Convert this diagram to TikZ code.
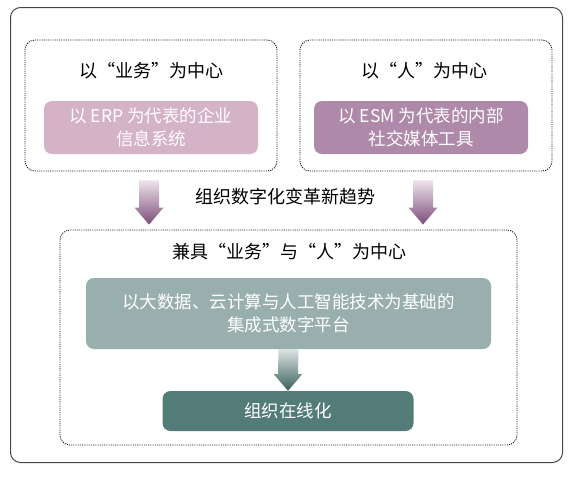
\documentclass[tikz,border=0pt]{standalone}
\usepackage{fontspec}
\setmainfont{Noto Sans CJK SC}
\usetikzlibrary{calc}
\definecolor{plumLight}{HTML}{D5B3C7}
\definecolor{plumMid}{HTML}{AE89A9}
\definecolor{plumDeep}{HTML}{7C4C79}
\definecolor{plumPale}{HTML}{EEE2EB}
\definecolor{sageLight}{HTML}{99AFAD}
\definecolor{sageDark}{HTML}{537C78}
\definecolor{sageDeep}{HTML}{3A605C}
\definecolor{sagePale}{HTML}{DCE4E3}
\newcommand\colorFrame{black!72}
\newcommand\colorDots{black!90}
\newcommand\shaftHalf{10}
\newcommand\headHalf{14.5}
\newcommand\headLen{17}
% fat shaded arrow from #1 down to the tip #2, shaded from #3 to #4
\newcommand\drawFatArrow[4]{
	\shade[top color=#3, bottom color=#4]
		($(#1)+(-\shaftHalf,0)$) --
		($(#2)+(-\shaftHalf,-\headLen)$) --
		($(#2)+(-\headHalf,-\headLen)$) --
		(#2) --
		($(#2)+(\headHalf,-\headLen)$) --
		($(#2)+(\shaftHalf,-\headLen)$) --
		($(#1)+(\shaftHalf,0)$) -- cycle;
}

\begin{document}
\begin{tikzpicture}[x=1pt,y=-1pt,
	frame/.style={draw=\colorFrame, line width=1pt, rounded corners=10pt},
	zone/.style={draw=\colorDots, line width=0.9pt, dash pattern=on 1.1pt off 1.1pt, rounded corners=10pt},
	tile/.style={rounded corners=8pt, text=white, align=center, font=\fontsize{17.5}{23}\selectfont},
	heading/.style={font=\fontsize{18}{22}\selectfont}]
	\useasboundingbox (0,0) rectangle (577,480);

	\node[frame, minimum width=552pt, minimum height=455pt] (frame) at (286.5,235) {};
	\node[zone, minimum width=252pt, minimum height=131pt] (bizzone) at (151,105.5) {};
	\node[zone, minimum width=252pt, minimum height=131pt] (peoplezone) at (426,105.5) {};
	\node[zone, minimum width=457pt, minimum height=215pt] (bothzone) at (288.5,337.5) {};

	\node[heading] (biztitle) at (151,71) {以“业务”为中心};
	\node[heading] (peopletitle) at (424,71) {以“人”为中心};
	\node[heading] (trend) at (285,197) {组织数字化变革新趋势};
	\node[heading] (bothtitle) at (289,252) {兼具“业务”与“人”为中心};

	\node[tile, fill=plumLight, minimum width=214pt, minimum height=53pt] (erp) at (151,127.5)
		{以 ERP 为代表的企业\\信息系统};
	\node[tile, fill=plumMid, minimum width=214pt, minimum height=53pt] (esm) at (421,127.5)
		{以 ESM 为代表的内部\\社交媒体工具};
	\node[tile, fill=sageLight, minimum width=405pt, minimum height=71pt] (platform) at (288.5,313.5)
		{以大数据、云计算与人工智能技术为基础的\\集成式数字平台};
	\node[tile, fill=sageDark, minimum width=251pt, minimum height=40pt] (online) at (288,411)
		{组织在线化};

	\path (bizzone.south) ++(-2,9) coordinate (bizTop);
	\path (peoplezone.south) ++(-3,9) coordinate (peopleTop);
	\foreach \top in {bizTop,peopleTop}{
		\coordinate (tip) at ($(\top |- bothzone.north)+(0,-5)$);
		\drawFatArrow{\top}{tip}{plumPale}{plumDeep}
	}
	\drawFatArrow{platform.south}{online.north}{sagePale}{sageDeep}
\end{tikzpicture}
\end{document}
